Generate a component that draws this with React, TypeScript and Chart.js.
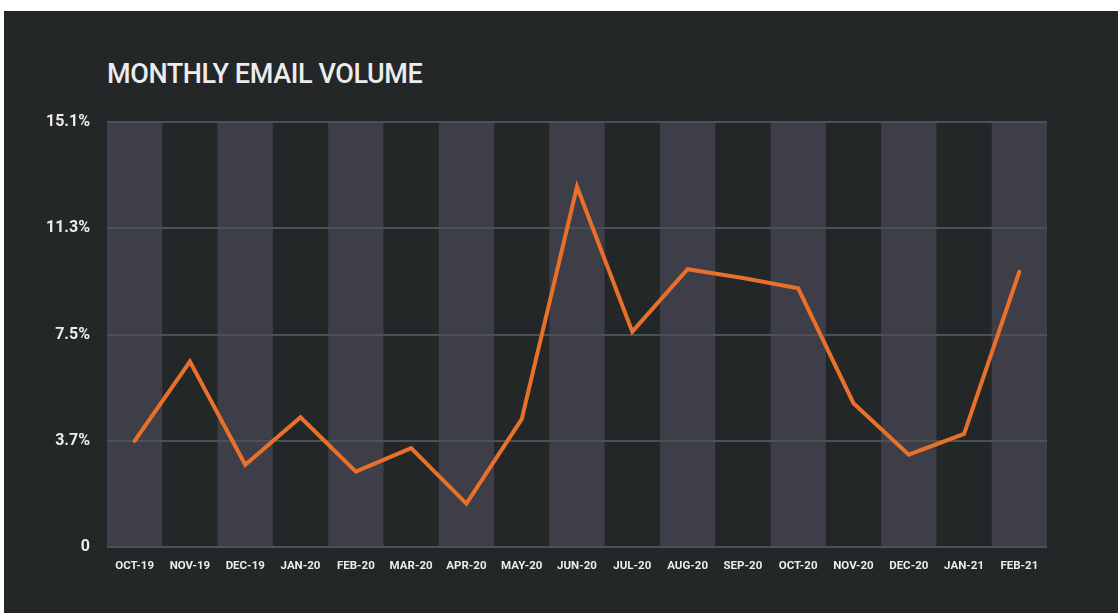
import React, { useEffect, useRef } from "react";
import { Chart, registerables } from "chart.js";

Chart.register(...registerables);

const categories = [
  "OCT-19", "NOV-19", "DEC-19", "JAN-20", "FEB-20", "MAR-20", "APR-20", "MAY-20",
  "JUN-20", "JUL-20", "AUG-20", "SEP-20", "OCT-20", "NOV-20", "DEC-20", "JAN-21", "FEB-21",
];
const emailVolume = [
  3.77, 6.59, 2.92, 4.61, 2.68, 3.51, 1.54, 4.54,
  12.8, 7.65, 9.87, 9.56, 9.19, 5.11, 3.28, 4.02, 9.78,
];
const yTickValues = [0, 3.775, 7.55, 11.325, 15.1];
const yTickLabels = ["0", "3.7%", "7.5%", "11.3%", "15.1%"];
const titleText = "MONTHLY EMAIL VOLUME";

const BG = "#232728";
const BAND = "#3e3e48";
const GRID = "#4b5254";
const LINE = "#e8702a";
const TEXT = "#ececec";

const bandPlugin = {
  id: "bands",
  beforeDraw(chart: any) {
    const { ctx, chartArea, scales } = chart;
    const x = scales.x;
    const n = categories.length;
    const w = chartArea.width / n;
    ctx.save();
    ctx.fillStyle = BAND;
    for (let i = 0; i < n; i += 2) {
      const cx = x.getPixelForValue(i);
      ctx.fillRect(cx - w / 2, chartArea.top, w, chartArea.bottom - chartArea.top);
    }
    ctx.restore();
  },
};

export default function App() {
  const ref = useRef<HTMLCanvasElement>(null);
  useEffect(() => {
    const chart = new Chart(ref.current!, {
      type: "line",
      data: {
        labels: categories,
        datasets: [
          {
            data: emailVolume,
            borderColor: LINE,
            borderWidth: 4,
            pointRadius: 0,
            tension: 0,
            fill: false,
            borderJoinStyle: "miter",
            borderCapStyle: "round",
          },
        ],
      },
      options: {
        animation: false,
        responsive: false,
        maintainAspectRatio: false,
        layout: { padding: { left: 0, right: 71, top: 122, bottom: 26 } },
        plugins: { legend: { display: false }, tooltip: { enabled: false }, title: { display: false } },
        scales: {
          x: {
            type: "category",
            offset: true,
            grid: { display: false, drawTicks: false },
            border: { display: false },
            ticks: {
              color: TEXT,
              padding: 12,
              maxRotation: 0,
              autoSkip: false,
              font: { family: "Roboto", size: 11.5, weight: "bold" },
            },
            afterFit(scale: any) {
              scale.height = 40;
            },
          },
          y: {
            min: 0,
            max: 15.1,
            grid: { color: GRID, lineWidth: 2, drawTicks: false },
            border: { display: false },
            afterBuildTicks(scale: any) {
              scale.ticks = yTickValues.map((v) => ({ value: v }));
            },
            ticks: {
              color: TEXT,
              padding: 17,
              font: { family: "Roboto", size: 16, weight: "bold" },
              callback: (_v: any, i: number) => yTickLabels[i],
            },
            afterFit(scale: any) {
              scale.width = 107;
            },
          },
        },
      },
      plugins: [bandPlugin],
    });
    return () => chart.destroy();
  }, []);

  return (
    <div style={{ position: "fixed", left: 0, top: 0, width: 1118, height: 613, background: "#ffffff", overflow: "hidden" }}>
      <div style={{ position: "absolute", left: 4, top: 11, right: 0, bottom: 0, background: BG }} />
      <div
        style={{
          position: "absolute",
          left: 107,
          top: 61,
          fontFamily: "Roboto",
          fontSize: 27,
          fontWeight: 500,
          lineHeight: "27px",
          letterSpacing: -0.4,
          color: TEXT,
          whiteSpace: "nowrap",
        }}
      >
        {titleText}
      </div>
      <canvas ref={ref} width={1118} height={613} style={{ position: "absolute", left: 0, top: 0 }} />
    </div>
  );
}
